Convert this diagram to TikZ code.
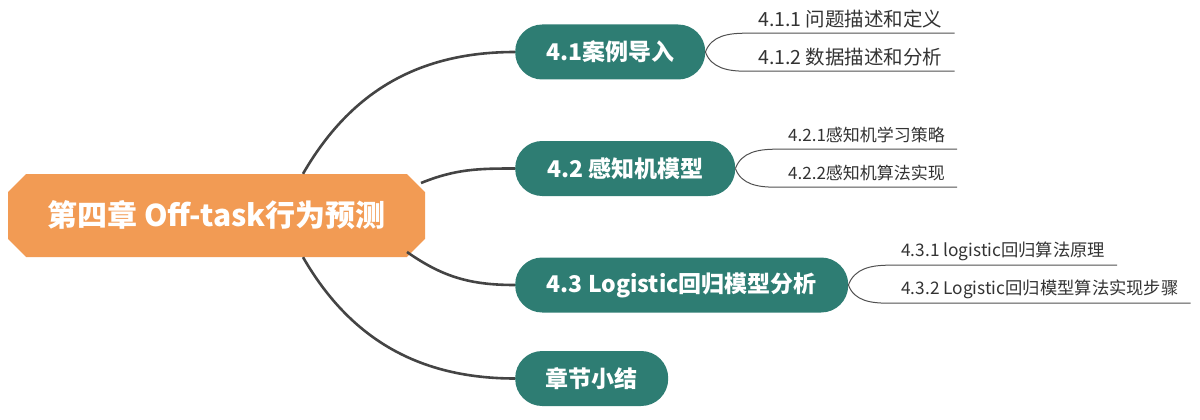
\documentclass[tikz,border=0pt]{standalone}
\usepackage{fontspec}
\setmainfont{Noto Sans CJK SC}
\usetikzlibrary{shapes.misc}
\definecolor{orangec}{HTML}{F29B54}
\definecolor{tealc}{HTML}{2E7D73}
\definecolor{linec}{HTML}{444444}
\definecolor{leafline}{HTML}{505050}
\definecolor{leaftext}{HTML}{333333}
\tikzset{
  rootbox/.style={chamfered rectangle, chamfered rectangle xsep=20pt,
    fill=orangec, text=white, font=\bfseries\fontsize{30}{33}\selectfont,
    minimum width=417pt, minimum height=83pt, inner sep=0pt},
  branchbox/.style={rectangle, rounded corners=27pt, fill=tealc, text=white,
    font=\bfseries\fontsize{23}{26}\selectfont, minimum height=55pt,
    inner sep=0pt, anchor=west},
  leafbox/.style={anchor=west, inner xsep=12pt, inner ysep=0pt,
    minimum height=28pt, text=leaftext},
  mainline/.style={draw=linec, line width=2.6pt},
  subline/.style={draw=leafline, line width=1pt},
}
\begin{document}
\begin{tikzpicture}[x=1pt,y=1pt]
\useasboundingbox (0,0) rectangle (1200,-420);
% root
\node[rootbox] (c) at (216.5,-215.5) {第四章 Off-task行为预测};
% branches
\node[branchbox, minimum width=190pt] (b1) at (515,-52) {4.1案例导入};
\node[branchbox, minimum width=220pt] (b2) at (515,-168.5) {4.2 感知机模型};
\node[branchbox, minimum width=333pt] (b3) at (515,-285) {4.3 Logistic回归模型分析};
\node[branchbox, minimum width=153pt] (b4) at (515,-378.5) {章节小结};
% main connectors
\draw[mainline] ([xshift=86.5pt]c.north) to[out=60,in=180] (b1.west);
\draw[mainline] ([shift={(204.5pt,32.5pt)}]c.center) to[out=22,in=180] (b2.west);
\draw[mainline] ([shift={(190.5pt,-36.5pt)}]c.center) to[out=-35,in=180] (b3.west);
\draw[mainline] ([xshift=86.5pt]c.south) to[out=-60,in=180] (b4.west);
% leaves
\node[leafbox, font=\fontsize{19.5}{21}\selectfont] (l11) at (746,-19) {4.1.1 问题描述和定义};
\node[leafbox, font=\fontsize{19.5}{21}\selectfont] (l12) at (746,-57) {4.1.2 数据描述和分析};
\node[leafbox, font=\fontsize{17}{19}\selectfont] (l21) at (776,-135) {4.2.1感知机学习策略};
\node[leafbox, font=\fontsize{17}{19}\selectfont] (l22) at (776,-173) {4.2.2感知机算法实现};
\node[leafbox, font=\fontsize{17.3}{19}\selectfont] (l31) at (889,-251) {4.3.1 logistic回归算法原理};
\node[leafbox, font=\fontsize{17.3}{19}\selectfont] (l32) at (889,-289) {4.3.2 Logistic回归模型算法实现步骤};
% leaf connectors
\draw[subline] (b1.east) to[out=70,in=180] (l11.south west) -- (l11.south east);
\draw[subline] (b1.east) to[out=-70,in=180] (l12.south west) -- (l12.south east);
\draw[subline] (b2.east) to[out=70,in=180] (l21.south west) -- (l21.south east);
\draw[subline] (b2.east) to[out=-70,in=180] (l22.south west) -- (l22.south east);
\draw[subline] (b3.east) to[out=70,in=180] (l31.south west) -- (l31.south east);
\draw[subline] (b3.east) to[out=-70,in=180] (l32.south west) -- (l32.south east);
\end{tikzpicture}
\end{document}
